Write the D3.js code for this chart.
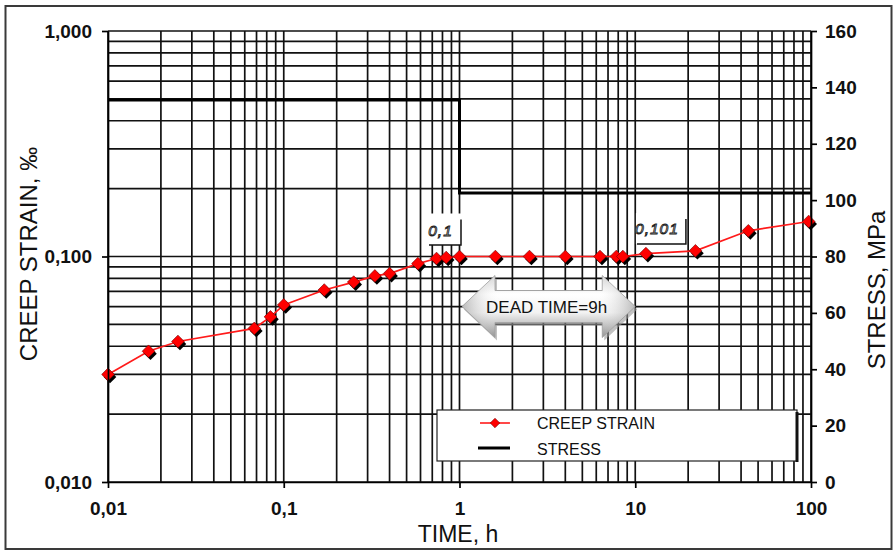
<!DOCTYPE html>
<html>
<head>
<meta charset="utf-8">
<script src="https://cdn.jsdelivr.net/npm/d3@7"></script>
<style>
  html, body { margin: 0; padding: 0; background: #fff; }
  svg { display: block; font-family: "Liberation Sans", Arial, sans-serif; }
</style>
</head>
<body>
<svg id="chart" width="894" height="552"></svg>
<script>
// ---- data ----
const timeH  = [0.01, 0.017, 0.025, 0.068, 0.084, 0.1, 0.17, 0.25, 0.33, 0.4, 0.58, 0.74, 0.84, 1.0, 1.6, 2.5, 4.0, 6.3, 7.8, 8.5, 11.5, 22, 44, 97];
const strain = [0.030, 0.038, 0.042, 0.048, 0.054, 0.061, 0.071, 0.077, 0.082, 0.084, 0.093, 0.098, 0.099, 0.100, 0.100, 0.100, 0.100, 0.100, 0.100, 0.100, 0.103, 0.106, 0.130, 0.143];
const stressTime = [0.01, 1, 1, 100];
const stressMPa  = [135.5, 135.5, 102.5, 102.5];

const timeTicks = [0.01, 0.1, 1, 10, 100];
const timeTickLabels = ["0,01", "0,1", "1", "10", "100"];
const strainTicks = [0.01, 0.1, 1];
const strainTickLabels = ["0,010", "0,100", "1,000"];
const stressTicks = [0, 20, 40, 60, 80, 100, 120, 140, 160];
const stressTickLabels = ["0", "20", "40", "60", "80", "100", "120", "140", "160"];

const pointLabelTime = [1, 11.5];
const pointLabelStrain = [0.100, 0.103];
const pointLabelText = ["0,1", "0,101"];

const deadTimeFrom = 1, deadTimeTo = 10, deadTimeStrain = 0.06;
const deadTimeText = "DEAD TIME=9h";

const legendNames = ["CREEP STRAIN", "STRESS"];
const xTitle = "TIME, h", yTitle = "CREEP STRAIN, ‰", y2Title = "STRESS, MPa";

// ---- layout ----
const svg = d3.select("#chart");
const L = 108, R = 811, T = 31, B = 482;
const x = d3.scaleLog().domain([0.01, 100]).range([L, R]);
const y = d3.scaleLog().domain([0.01, 1]).range([B, T]);
const y2 = d3.scaleLinear().domain([0, 160]).range([B, T]);

// outer frame
svg.append("rect").attr("x", 5.5).attr("y", 6).attr("width", 886).attr("height", 543)
  .attr("fill", "#fff").attr("stroke", "#3a3a3a").attr("stroke-width", 2);

// gridlines
const minor = [];
[0.01, 0.1, 1, 10].forEach(d => { for (let k = 1; k <= 9; k++) minor.push(+(d * k).toPrecision(3)); });
minor.push(100);
const yMinor = [];
[0.01, 0.1].forEach(d => { for (let k = 1; k <= 9; k++) yMinor.push(+(d * k).toPrecision(3)); });
yMinor.push(1);

const grid = svg.append("g").attr("stroke", "#111").attr("stroke-width", 1.7);
grid.selectAll("line.v").data(minor).join("line")
  .attr("x1", d => x(d)).attr("x2", d => x(d)).attr("y1", T).attr("y2", B);
grid.selectAll("line.h").data(yMinor).join("line")
  .attr("x1", L).attr("x2", R).attr("y1", d => y(d)).attr("y2", d => y(d));

// stress line
const stressData = stressTime.map((t, i) => [t, stressMPa[i]]);
svg.append("path").datum(stressData)
  .attr("d", d3.line().x(d => x(d[0])).y(d => y2(d[1])))
  .attr("fill", "none").attr("stroke", "#000").attr("stroke-width", 3);

// point labels (white boxes)
const labelOff = [
  {bx: -31.5, by: -43, bw: 33, bh: 31.5, tx: -19, ty: -21},
  {bx: -10,   by: -40.5, bw: 50, bh: 31, tx: 11, ty: -19.5}
];
pointLabelTime.forEach((t, i) => {
  const px = x(t), py = y(pointLabelStrain[i]), o = labelOff[i];
  const g = svg.append("g");
  g.append("rect").attr("x", px + o.bx).attr("y", py + o.by).attr("width", o.bw).attr("height", o.bh)
    .attr("fill", "#fff");
  g.append("path")
    .attr("d", `M${px + o.bx + 1},${py + o.by + o.bh} H${px + o.bx + o.bw} V${py + o.by + 6}`)
    .attr("fill", "none").attr("stroke", "#111").attr("stroke-width", 1.5);
  g.append("text").attr("x", px + o.tx).attr("y", py + o.ty)
    .attr("text-anchor", "middle").attr("font-size", 15.5).attr("font-style", "italic")
    .attr("fill", "#fff").attr("stroke", "#222").attr("stroke-width", 0.9)
    .attr("letter-spacing", 1).text(pointLabelText[i]);
});

// dead time arrow
const defs = svg.append("defs");
const grad = defs.append("linearGradient").attr("id", "arrowGrad")
  .attr("x1", 0).attr("y1", 0).attr("x2", 0).attr("y2", 1);
grad.append("stop").attr("offset", "0%").attr("stop-color", "#d4d4d4");
grad.append("stop").attr("offset", "30%").attr("stop-color", "#ffffff");
grad.append("stop").attr("offset", "60%").attr("stop-color", "#f2f2f2");
grad.append("stop").attr("offset", "100%").attr("stop-color", "#8c8c8c");
const hgrad = defs.append("linearGradient").attr("id", "arrowGradH")
  .attr("x1", 0).attr("y1", 0).attr("x2", 1).attr("y2", 0);
hgrad.append("stop").attr("offset", "0%").attr("stop-color", "#888").attr("stop-opacity", 0.55);
hgrad.append("stop").attr("offset", "22%").attr("stop-color", "#fff").attr("stop-opacity", 0);
hgrad.append("stop").attr("offset", "78%").attr("stop-color", "#fff").attr("stop-opacity", 0);
hgrad.append("stop").attr("offset", "100%").attr("stop-color", "#888").attr("stop-opacity", 0.55);

const ax1 = x(deadTimeFrom) + 2.5, ax2 = x(deadTimeTo), ay = y(deadTimeStrain);
const head = 33, hh = 31, sh = 16;
const arrowD = `M${ax1},${ay} L${ax1 + head},${ay - hh} L${ax1 + head},${ay - sh} L${ax2 - head},${ay - sh} ` +
  `L${ax2 - head},${ay - hh} L${ax2},${ay} L${ax2 - head},${ay + hh} L${ax2 - head},${ay + sh} ` +
  `L${ax1 + head},${ay + sh} L${ax1 + head},${ay + hh} Z`;
svg.append("path").attr("d", arrowD).attr("transform", "translate(2,3)").attr("fill", "#9a9a9a").attr("opacity", 0.6);
svg.append("path").attr("d", arrowD).attr("fill", "url(#arrowGrad)").attr("stroke", "#9a9a9a").attr("stroke-width", 0.8);
svg.append("path").attr("d", arrowD).attr("fill", "url(#arrowGradH)");
svg.append("text").attr("x", (ax1 + ax2) / 2 - 2).attr("y", ay + 6.5)
  .attr("text-anchor", "middle").attr("font-size", 17).attr("fill", "#111").text(deadTimeText);

// creep strain line + markers
const strainData = timeH.map((t, i) => [t, strain[i]]);
svg.append("path").datum(strainData)
  .attr("d", d3.line().x(d => x(d[0])).y(d => y(d[1])))
  .attr("fill", "none").attr("stroke", "#ff1a1a").attr("stroke-width", 1.7);
const sq = d3.symbol().type(d3.symbolSquare).size(80);
const mk = svg.append("g");
mk.selectAll("path.sh").data(strainData).join("path")
  .attr("d", sq()).attr("fill", "#000")
  .attr("transform", d => `translate(${x(d[0]) + 2},${y(d[1]) + 2.5}) rotate(45)`);
mk.selectAll("path.pt").data(strainData).join("path")
  .attr("d", sq()).attr("fill", "#f00").attr("stroke", "#700").attr("stroke-width", 0.6)
  .attr("transform", d => `translate(${x(d[0])},${y(d[1])}) rotate(45)`);

// axes
const fontTick = g => g.selectAll("text").attr("font-size", 19).attr("font-weight", "bold")
  .attr("fill", "#111").attr("font-family", '"Liberation Sans", Arial, sans-serif');
const axStyle = g => { g.select(".domain").attr("stroke", "#000").attr("stroke-width", 1.7);
  g.selectAll(".tick line").attr("stroke", "#000").attr("stroke-width", 1.7); };

svg.append("g").attr("transform", `translate(${L},0)`)
  .call(d3.axisLeft(y).tickValues(strainTicks).tickFormat((d, i) => strainTickLabels[i]).tickSize(6).tickPadding(10).tickSizeOuter(0))
  .call(fontTick).call(axStyle);
svg.append("g").attr("transform", `translate(0,${B})`)
  .call(d3.axisBottom(x).tickValues(timeTicks).tickFormat((d, i) => timeTickLabels[i]).tickSize(6).tickPadding(14).tickSizeOuter(0))
  .call(fontTick).call(axStyle);
svg.append("g").attr("transform", `translate(${R},0)`)
  .call(d3.axisRight(y2).tickValues(stressTicks).tickFormat((d, i) => stressTickLabels[i]).tickSize(6).tickPadding(8).tickSizeOuter(0))
  .call(fontTick).call(axStyle);

// titles
svg.append("text").attr("transform", `translate(37,254) rotate(-90)`).attr("text-anchor", "middle")
  .attr("font-size", 24).attr("fill", "#111").text(yTitle);
svg.append("text").attr("transform", `translate(885,290) rotate(-90)`).attr("text-anchor", "middle")
  .attr("font-size", 24).attr("fill", "#111").text(y2Title);
svg.append("text").attr("x", 458).attr("y", 542).attr("text-anchor", "middle")
  .attr("font-size", 23).attr("fill", "#111").text(xTitle);

// legend
const lg = svg.append("g");
lg.append("rect").attr("x", 437).attr("y", 410).attr("width", 360).attr("height", 51)
  .attr("fill", "#fff").attr("stroke", "#222").attr("stroke-width", 1.2);
lg.append("line").attr("x1", 797).attr("x2", 797).attr("y1", 412).attr("y2", 462)
  .attr("stroke", "#111").attr("stroke-width", 3);
lg.append("line").attr("x1", 480).attr("x2", 510).attr("y1", 423).attr("y2", 423)
  .attr("stroke", "#ff1a1a").attr("stroke-width", 1.6);
lg.append("path").attr("d", d3.symbol().type(d3.symbolSquare).size(45)())
  .attr("transform", "translate(495,423) rotate(45)").attr("fill", "#f00").attr("stroke", "#700").attr("stroke-width", 0.6);
lg.append("line").attr("x1", 478).attr("x2", 510).attr("y1", 448).attr("y2", 448)
  .attr("stroke", "#000").attr("stroke-width", 3);
legendNames.forEach((n, i) => {
  lg.append("text").attr("x", 537).attr("y", 428.5 + i * 26).attr("font-size", 16).attr("fill", "#111").text(n);
});
</script>
</body>
</html>
